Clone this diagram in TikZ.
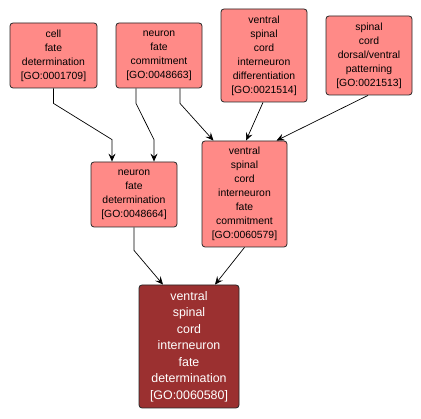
\documentclass[tikz,border=0pt]{standalone}
\usepackage{fontspec}
\setmainfont{Liberation Sans}
\usetikzlibrary{arrows.meta,calc}
\definecolor{goLight}{HTML}{FF8A87}
\definecolor{goDark}{HTML}{9B3030}
\begin{document}
\begin{tikzpicture}[x=1pt,y=-1pt,
  goterm/.style={draw=black!85, line width=0.8pt, rounded corners=3pt, fill=goLight,
    align=center, inner sep=0pt, font=\fontsize{10.4}{14}\selectfont},
  goroot/.style={goterm, fill=goDark, text=white, font=\fontsize{12.4}{16.5}\selectfont},
  edge/.style={draw=black, line width=0.7pt, -{Stealth[length=8pt,width=7pt,inset=3pt]}}]
\useasboundingbox (0,0) rectangle (421,419);
\node[goterm, minimum width=87pt, minimum height=65pt] (A) at (53.5,55.5) {cell\\fate\\determination\\{[GO:0001709]}};
\node[goterm, minimum width=86pt, minimum height=65pt] (B) at (159,55.5) {neuron\\fate\\commitment\\{[GO:0048663]}};
\node[goterm, minimum width=86pt, minimum height=93pt] (C) at (264,55.5) {ventral\\spinal\\cord\\interneuron\\differentiation\\{[GO:0021514]}};
\node[goterm, minimum width=86pt, minimum height=79pt] (D) at (369,55.5) {spinal\\cord\\dorsal/ventral\\patterning\\{[GO:0021513]}};
\node[goterm, minimum width=86pt, minimum height=65pt] (E) at (134,194.5) {neuron\\fate\\determination\\{[GO:0048664]}};
\node[goterm, minimum width=85pt, minimum height=106pt] (F) at (244.5,194) {ventral\\spinal\\cord\\interneuron\\fate\\commitment\\{[GO:0060579]}};
\node[goroot, minimum width=100pt, minimum height=123pt] (G) at (189,346.5) {ventral\\spinal\\cord\\interneuron\\fate\\determination\\{[GO:0060580]}};
\draw[edge] (A.south) -- ++(0,15) -- ($(E.north)+(-22,-22)$) -- ([xshift=-22pt]E.north);
\draw[edge] ([xshift=-23pt]B.south) -- ++(0,15) -- ($(E.north)+(20,-22)$) -- ([xshift=20pt]E.north);
\draw[edge] ([xshift=21pt]B.south) -- ++(0,15) -- ([xshift=-31pt]F.north);
\draw[edge] ([xshift=-1pt]C.south) -- ([xshift=1.5pt]F.north);
\draw[edge] ([xshift=-1pt]D.south) -- ([xshift=32pt]F.north);
\draw[edge] (E.south) -- ++(0,23) -- ([xshift=-26pt]G.north);
\draw[edge] (F.south) -- ([xshift=26pt]G.north);
\end{tikzpicture}
\end{document}
